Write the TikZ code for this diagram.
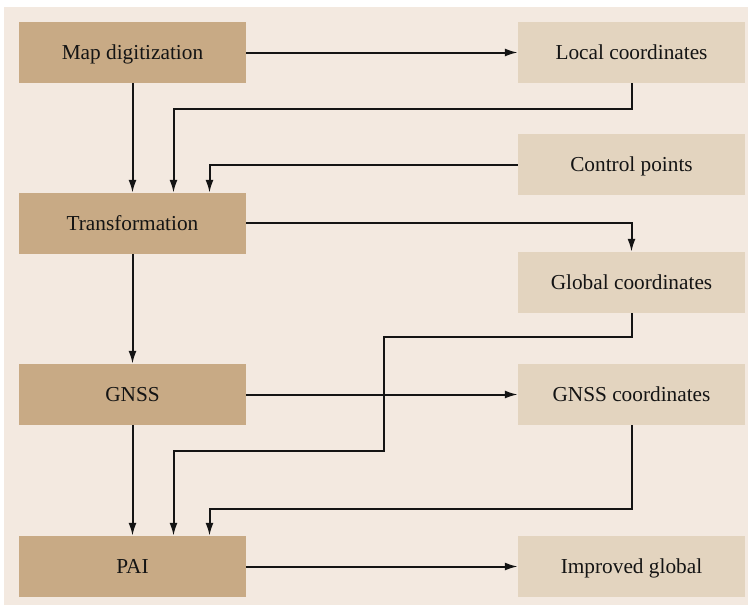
\documentclass[tikz,border=0pt]{standalone}
\usepackage{fontspec}
\setmainfont{Liberation Serif}
\usetikzlibrary{arrows.meta}
\definecolor{bgbeige}{HTML}{F3E9E0}
\definecolor{darkbox}{HTML}{C8AA85}
\definecolor{lightbox}{HTML}{E3D4BF}
\definecolor{inkline}{HTML}{141414}
\begin{document}
\begin{tikzpicture}[x=1pt,y=-1pt,
  box/.style={draw=none,minimum width=227pt,minimum height=61pt,inner sep=0pt,
    text height=14.2pt,text depth=0pt,
    font=\fontsize{21.3}{25}\selectfont,text=inkline},
  procbox/.style={box,fill=darkbox},
  databox/.style={box,fill=lightbox},
  flow/.style={draw=inkline,line width=2pt,-{Latex[length=13pt,width=8pt]}}]
\useasboundingbox (0,0) rectangle (750,605);
\fill[bgbeige] (4,7) rectangle (748,605);
% processing steps (left column)
\node[procbox] (map) at (132.5,52.5) {Map digitization};
\node[procbox] (trans) at (132.5,223.5) {Transformation};
\node[procbox] (gnss) at (132.5,394.5) {GNSS};
\node[procbox] (pai) at (132.5,566.5) {PAI};
% data sets (right column)
\node[databox] (local) at (631.5,52.5) {Local coordinates};
\node[databox] (ctrl) at (631.5,164.5) {Control points};
\node[databox] (global) at (631.5,282.5) {Global coordinates};
\node[databox] (gnssc) at (631.5,394.5) {GNSS coordinates};
\node[databox] (impr) at (631.5,566.5) {Improved global};
% bend points
\coordinate (l1) at (173.5,108.5);
\coordinate (g1) at (383.5,336.5);
\coordinate (g2) at (383.5,450.5);
\coordinate (n1) at (209.5,508.5);
% connectors
\draw[flow] (map) -- (local);
\draw[flow] (map) -- (trans);
\draw[flow] (local.south) |- (l1) -- (l1 |- trans.north);
\draw[flow] (ctrl.west) -| (trans.north -| n1);
\draw[flow] ([yshift=1pt]trans.east) -| (global.north);
\draw[flow] (trans) -- (gnss);
\draw[flow] (global.south) |- (g1) -- (g2) -| (pai.north -| l1);
\draw[flow] (gnss) -- (gnssc);
\draw[flow] (gnss) -- (pai);
\draw[flow] (gnssc.south) |- (n1) -- (n1 |- pai.north);
\draw[flow] (pai) -- (impr);
\end{tikzpicture}
\end{document}
